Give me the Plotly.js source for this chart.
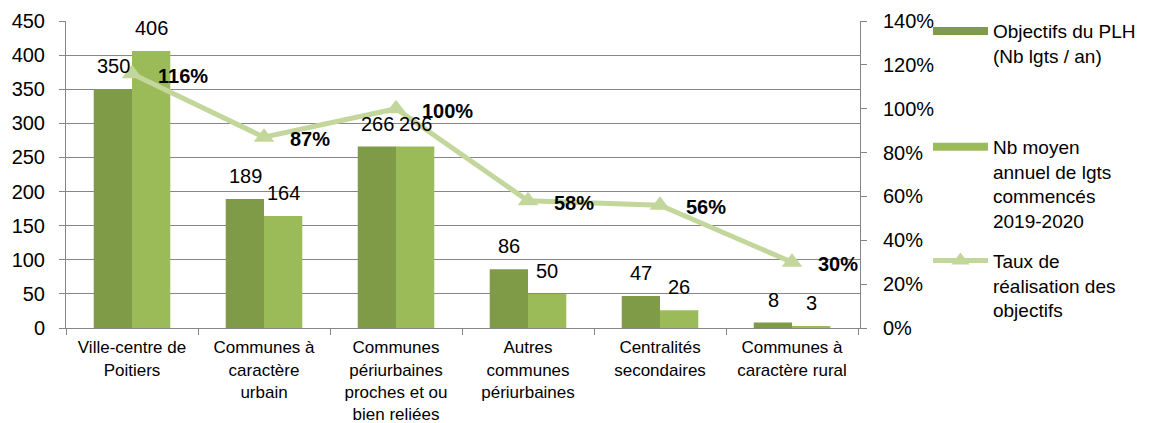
<!DOCTYPE html>
<html>
<head>
<meta charset="utf-8">
<script src="https://cdn.plot.ly/plotly-3.0.1.min.js"></script>
<style>html,body{margin:0;padding:0;background:#fff;}#chart{width:1161px;height:423px;}</style>
</head>
<body>
<div id="chart"></div>
<script>
const categories = [
  "Ville-centre de<br>Poitiers",
  "Communes à<br>caractère<br>urbain",
  "Communes<br>périurbaines<br>proches et ou<br>bien reliées",
  "Autres<br>communes<br>périurbaines",
  "Centralités<br>secondaires",
  "Communes à<br>caractère rural"
];
const objectifs = [350, 189, 266, 86, 47, 8];
const commences = [406, 164, 266, 50, 26, 3];
const taux = [1.16, 0.87, 1.00, 0.58, 0.56, 0.30];
const tauxLabels = ["116%", "87%", "100%", "58%", "56%", "30%"];

const nameObj = "Objectifs du PLH<br>(Nb lgts / an)";
const nameCom = "Nb moyen<br>annuel de lgts<br>commencés<br>2019-2020";
const nameTaux = "Taux de<br>réalisation des<br>objectifs";

const cDark = "#7F9B48";
const cLight = "#9BBB59";
const cLine = "#C3D69B";
const font = "Liberation Sans, Arial, sans-serif";
const fs = 20;

const traces = [
  {type: "bar", name: nameObj, x: categories, y: objectifs, marker: {color: cDark}, hoverinfo: "none", showlegend: false},
  {type: "bar", name: nameCom, x: categories, y: commences, marker: {color: cLight}, hoverinfo: "none", showlegend: false},
  {type: "scatter", mode: "lines+markers", name: nameTaux, x: categories, y: taux, yaxis: "y2",
   line: {color: cLine, width: 5}, marker: {symbol: "triangle-up", size: 18, color: cLine}, hoverinfo: "none", legend: "legend3"},
  // legend entries for the bar series (wide swatch, as in the reference)
  {type: "scatter", mode: "lines", name: nameObj, x: [null], y: [null], line: {color: cDark, width: 8}, hoverinfo: "none", legend: "legend"},
  {type: "scatter", mode: "lines", name: nameCom, x: [null], y: [null], line: {color: cLight, width: 8}, hoverinfo: "none", legend: "legend2"}
];

const annotations = [];
categories.forEach((c, i) => {
  annotations.push({x: c, y: objectifs[i], xref: "x", yref: "y", text: String(objectifs[i]),
    showarrow: false, xshift: -19, yshift: 23, font: {size: fs, color: "#000", family: font}});
  annotations.push({x: c, y: commences[i], xref: "x", yref: "y", text: String(commences[i]),
    showarrow: false, xshift: 19, yshift: 23, font: {size: fs, color: "#000", family: font}});
  annotations.push({x: c, y: taux[i], xref: "x", yref: "y2", text: "<b>" + tauxLabels[i] + "</b>",
    showarrow: false, xanchor: "left", xshift: 24, yshift: -2, font: {size: fs, color: "#000", family: font}});
});

const legendBase = {x: 1.0856, xanchor: "left", yanchor: "top", valign: "top", itemwidth: 55,
  font: {size: 19, family: font, color: "#000"}, bgcolor: "rgba(0,0,0,0)"};

const layout = {
  width: 1161, height: 423,
  margin: {l: 66, r: 301, t: 18, b: 95},
  paper_bgcolor: "#fff", plot_bgcolor: "#fff",
  barmode: "group", bargap: 0.42, bargroupgap: 0,
  font: {family: font, size: fs, color: "#000"},
  showlegend: true,
  legend: Object.assign({}, legendBase, {y: 1.029}),
  legend2: Object.assign({}, legendBase, {y: 0.652}),
  legend3: Object.assign({}, legendBase, {y: 0.281}),
  xaxis: {
    tickfont: {family: font, size: 17, color: "#000"},
    showline: true, linecolor: "#868686", linewidth: 1,
    ticks: "outside", tickson: "boundaries", ticklen: 6, tickcolor: "#868686",
    ticklabelstandoff: 4,
    showgrid: false, fixedrange: true
  },
  yaxis: {
    range: [0, 450], dtick: 50, tick0: 0,
    showline: true, linecolor: "#868686", linewidth: 1,
    ticks: "outside", ticklen: 6, tickcolor: "#868686",
    ticklabelstandoff: 10,
    gridcolor: "#868686", gridwidth: 1, zeroline: false,
    tickfont: {size: fs, family: font, color: "#000"}, fixedrange: true
  },
  yaxis2: {
    overlaying: "y", side: "right", range: [0, 1.4], dtick: 0.2, tick0: 0,
    tickformat: ".0%",
    showline: true, linecolor: "#868686", linewidth: 1,
    ticks: "outside", ticklen: 6, tickcolor: "#868686",
    ticklabelstandoff: 12,
    showgrid: false, zeroline: false,
    tickfont: {size: fs, family: font, color: "#000"}, fixedrange: true
  },
  annotations: annotations
};

Plotly.newPlot("chart", traces, layout, {staticPlot: true, displayModeBar: false});
</script>
</body>
</html>
